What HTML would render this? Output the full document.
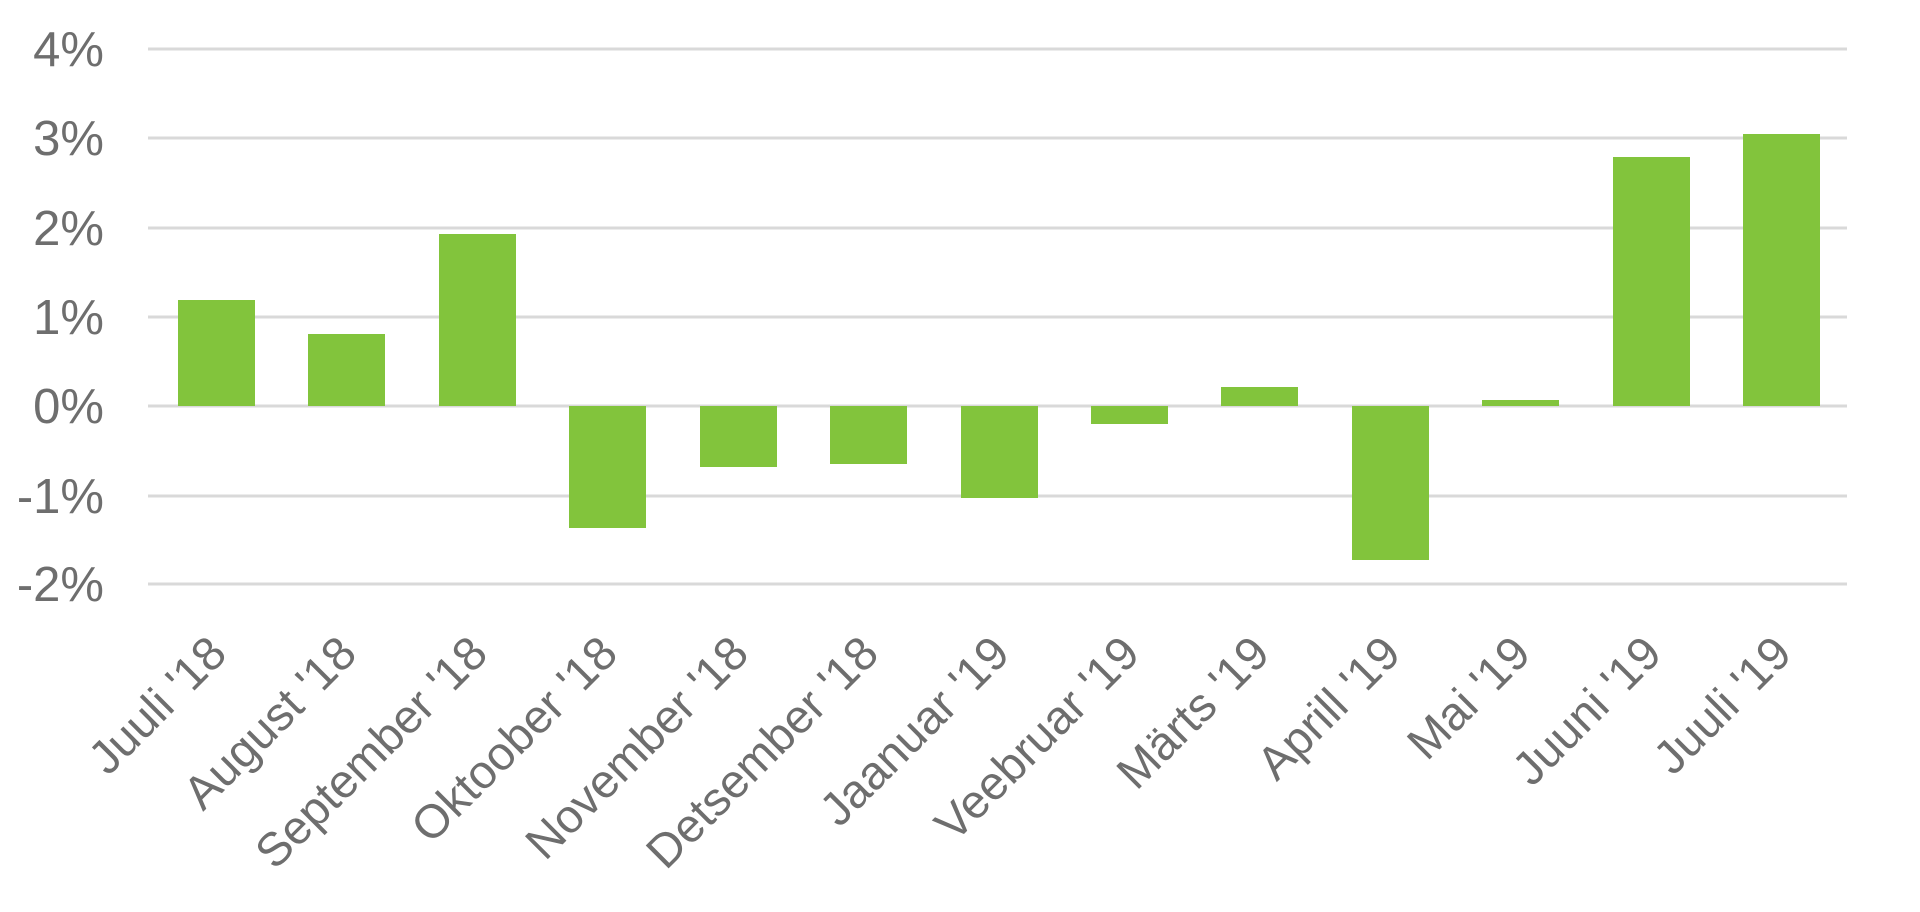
<!DOCTYPE html>
<html><head><meta charset="utf-8"><style>
html,body{margin:0;padding:0;background:#fff;width:1920px;height:912px;overflow:hidden}
svg text{font-family:"Liberation Sans",sans-serif;fill:#6e6e6e}
</style></head><body>
<svg width="1920" height="912" xmlns="http://www.w3.org/2000/svg">
<g stroke="#d9d9d9" stroke-width="3">
<line x1="148" x2="1847" y1="49" y2="49"/>
<line x1="148" x2="1847" y1="138" y2="138"/>
<line x1="148" x2="1847" y1="228" y2="228"/>
<line x1="148" x2="1847" y1="317" y2="317"/>
<line x1="148" x2="1847" y1="406" y2="406"/>
<line x1="148" x2="1847" y1="496" y2="496"/>
<line x1="148" x2="1847" y1="584" y2="584"/>
</g>
<g font-size="49" text-anchor="end">
<text x="104" y="66">4%</text>
<text x="104" y="155">3%</text>
<text x="104" y="245">2%</text>
<text x="104" y="334">1%</text>
<text x="104" y="423">0%</text>
<text x="104" y="513">-1%</text>
<text x="104" y="601">-2%</text>
</g>
<g fill="#82c43c">
<rect x="178" y="300" width="77" height="106"/>
<rect x="308" y="334" width="77" height="72"/>
<rect x="439" y="234" width="77" height="172"/>
<rect x="569" y="406" width="77" height="122"/>
<rect x="700" y="406" width="77" height="61"/>
<rect x="830" y="406" width="77" height="58"/>
<rect x="961" y="406" width="77" height="92"/>
<rect x="1091" y="406" width="77" height="18"/>
<rect x="1221" y="387" width="77" height="19"/>
<rect x="1352" y="406" width="77" height="154"/>
<rect x="1482" y="400" width="77" height="6"/>
<rect x="1613" y="157" width="77" height="249"/>
<rect x="1743" y="134" width="77" height="272"/>
</g>
<g font-size="47" text-anchor="end">
<text transform="translate(229,656) rotate(-45)">Juuli '18</text>
<text transform="translate(359,656) rotate(-45)">August '18</text>
<text transform="translate(490,656) rotate(-45)">September '18</text>
<text transform="translate(620,656) rotate(-45)">Oktoober '18</text>
<text transform="translate(751,656) rotate(-45)">November '18</text>
<text transform="translate(881,656) rotate(-45)">Detsember '18</text>
<text transform="translate(1012,656) rotate(-45)">Jaanuar '19</text>
<text transform="translate(1142,656) rotate(-45)">Veebruar '19</text>
<text transform="translate(1272,656) rotate(-45)">Märts '19</text>
<text transform="translate(1403,656) rotate(-45)">Aprill '19</text>
<text transform="translate(1533,656) rotate(-45)">Mai '19</text>
<text transform="translate(1664,656) rotate(-45)">Juuni '19</text>
<text transform="translate(1794,656) rotate(-45)">Juuli '19</text>
</g>
</svg>
</body></html>
